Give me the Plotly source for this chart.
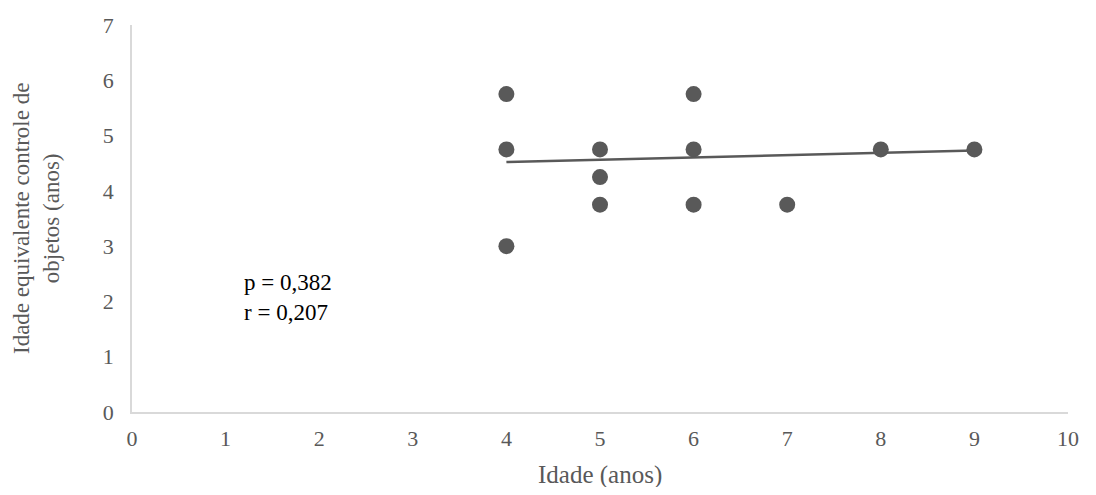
import plotly.graph_objects as go

# Data
idade = [4, 4, 4, 5, 5, 5, 6, 6, 6, 7, 8, 9]
idade_equivalente = [5.75, 4.75, 3.0, 4.75, 4.25, 3.75, 5.75, 4.75, 3.75, 3.75, 4.75, 4.75]

# Linear trend line endpoints (as drawn in the reference)
trend_x = [4, 9]
trend_y = [4.52, 4.73]

x_ticks = list(range(0, 11))
y_ticks = list(range(0, 8))

x_title = "Idade (anos)"
y_title = "Idade equivalente controle de<br>objetos (anos)"
stats_text = "p = 0,382<br>r = 0,207"

GRAY = "#595959"
FONT = "Liberation Serif, Times New Roman, serif"

fig = go.Figure()
fig.add_trace(go.Scatter(
    x=idade, y=idade_equivalente, mode="markers",
    marker=dict(color=GRAY, size=16, line=dict(width=0)),
    showlegend=False, hoverinfo="x+y",
))
fig.add_trace(go.Scatter(
    x=trend_x, y=trend_y, mode="lines",
    line=dict(color=GRAY, width=2.5),
    showlegend=False, hoverinfo="skip",
))

fig.add_annotation(
    x=1.17, y=2.07, xref="x", yref="y", text=stats_text,
    showarrow=False, xanchor="left", yanchor="middle", align="left",
    font=dict(family=FONT, size=23, color="#000000"),
)
# Axis titles
fig.add_annotation(
    x=0.5, y=-0.162, xref="paper", yref="paper", text=x_title,
    showarrow=False, xanchor="center", yanchor="middle",
    font=dict(family=FONT, size=25, color=GRAY),
)
fig.add_annotation(
    x=-0.102, y=0.5, xref="paper", yref="paper", text=y_title,
    showarrow=False, xanchor="center", yanchor="middle", textangle=-90,
    font=dict(family=FONT, size=23, color=GRAY),
)

# The page body adds an 8px offset, so the figure is sized to fit the window
fig.update_layout(
    width=1080, height=479,
    margin=dict(l=123.5, r=20, t=16.5, b=75.3),
    paper_bgcolor="white", plot_bgcolor="white",
    font=dict(family=FONT, color=GRAY, size=22),
    xaxis=dict(
        range=[0, 10], tickvals=x_ticks, showgrid=False, zeroline=False,
        showline=True, linecolor="#d9d9d9", linewidth=1.5, ticks="",
        tickfont=dict(family=FONT, size=22, color=GRAY),
        ticklabelstandoff=6, automargin=False,
        fixedrange=True,
    ),
    yaxis=dict(
        range=[0, 7], tickvals=y_ticks, showgrid=False, zeroline=False,
        showline=True, linecolor="#d9d9d9", linewidth=1.5, ticks="",
        tickfont=dict(family=FONT, size=22, color=GRAY),
        ticklabelstandoff=12, automargin=False,
        fixedrange=True,
    ),
)

fig.write_html("out.html")
